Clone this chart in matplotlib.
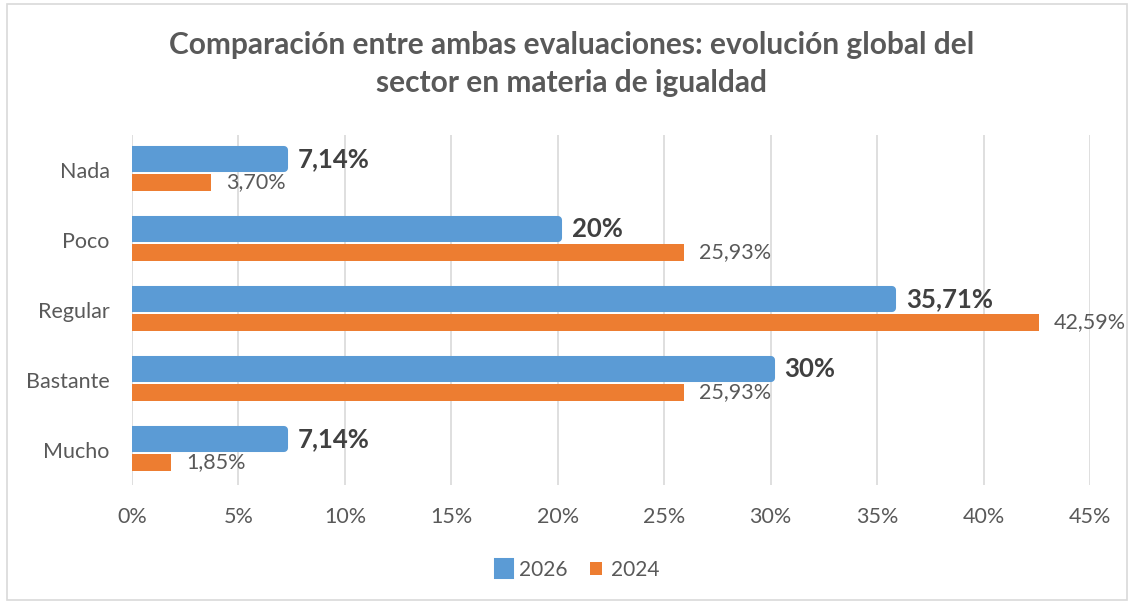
import matplotlib
matplotlib.use('Agg')
import matplotlib.pyplot as plt
import numpy as np
from matplotlib.patches import Rectangle

plt.rcParams['font.family'] = ['Lato', 'DejaVu Sans']

categories = ['Nada', 'Poco', 'Regular', 'Bastante', 'Mucho']
vals_2026 = [7.14, 20, 35.71, 30, 7.14]
vals_2024 = [3.70, 25.93, 42.59, 25.93, 1.85]
labels_2026 = ['7,14%', '20%', '35,71%', '30%', '7,14%']
labels_2024 = ['3,70%', '25,93%', '42,59%', '25,93%', '1,85%']
xticks = [0, 5, 10, 15, 20, 25, 30, 35, 40, 45]

blue = '#5B9BD5'
orange = '#ED7D31'
gray_txt = '#595959'

fig = plt.figure(figsize=(11.32, 6.05), dpi=100)
ax = fig.add_axes([0.1166, 0.1983, 0.8463, 0.5785])

y = np.arange(len(categories))
b1 = ax.barh(y - 0.155, vals_2026, height=0.264, color=blue, edgecolor=blue,
             linewidth=5.8, joinstyle='round', label='2026', zorder=3)
b2 = ax.barh(y + 0.175, vals_2024, height=0.243, color=orange, edgecolor='none',
             label='2024', zorder=3)

for i in range(len(categories)):
    ax.annotate(labels_2026[i], (vals_2026[i], y[i] - 0.155), xytext=(10, 0),
                textcoords='offset points', va='center', ha='left',
                fontsize=18.5, fontweight='bold', color='#404040')
    ax.annotate(labels_2024[i], (vals_2024[i], y[i] + 0.175), xytext=(11, 0),
                textcoords='offset points', va='center', ha='left',
                fontsize=15.5, color=gray_txt)

ax.set_xlim(0, 45)
ax.set_ylim(4.5, -0.5)
ax.set_xticks(xticks)
ax.set_xticklabels([f'{t}%' for t in xticks])
ax.set_yticks(y)
ax.set_yticklabels(categories)
ax.tick_params(axis='x', length=0, pad=16, labelsize=15.5, labelcolor=gray_txt)
ax.tick_params(axis='y', length=0, pad=16, labelsize=15.5, labelcolor=gray_txt)
ax.grid(axis='x', color='#D9D9D9', linewidth=1.2, zorder=0)
for s in ax.spines.values():
    s.set_visible(False)

fig.text(571.5 / 1132, 1 - 64 / 605,
         'Comparación entre ambas evaluaciones: evolución global del\nsector en materia de igualdad',
         ha='center', va='center', fontsize=21.5, fontweight='bold', color=gray_txt,
         linespacing=1.45)

fig.legend(handles=[b1, b2], labels=['2026', '2024'], loc='center',
           bbox_to_anchor=(579 / 1132, 1 - 570 / 605), ncol=2, frameon=False,
           fontsize=15, handlelength=0.55, handleheight=0.55, handletextpad=0.45,
           columnspacing=1.1, labelcolor=gray_txt)

fig.patches.append(Rectangle((7 / 1132, 1 - 600 / 605), 1120 / 1132, 596 / 605,
                             transform=fig.transFigure, fill=False,
                             edgecolor='#D9D9D9', linewidth=1.2))

fig.savefig('out.png', dpi=100)
